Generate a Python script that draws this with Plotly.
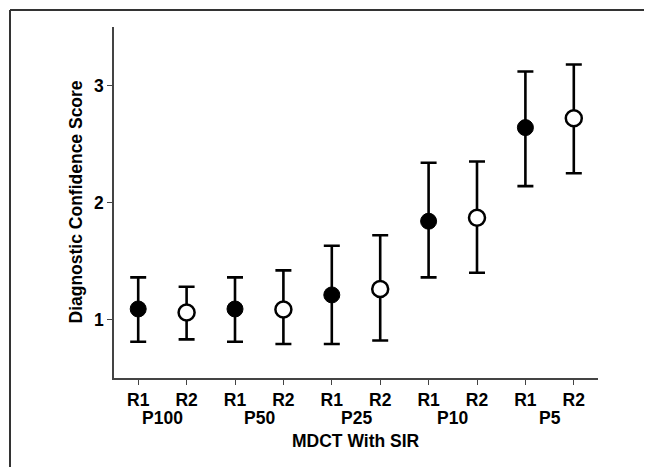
import plotly.graph_objects as go

groups = ["P100", "P50", "P25", "P10", "P5"]
readers = ["R1", "R2"]

r1_mean = [1.09, 1.09, 1.21, 1.84, 2.64]
r1_upper = [1.36, 1.36, 1.63, 2.34, 3.12]
r1_lower = [0.81, 0.81, 0.79, 1.36, 2.14]

r2_mean = [1.06, 1.085, 1.26, 1.87, 2.72]
r2_upper = [1.28, 1.42, 1.72, 2.35, 3.18]
r2_lower = [0.83, 0.79, 0.82, 1.40, 2.25]

y_ticks = [1, 2, 3]

FONT = "Liberation Sans, Arial, Helvetica, sans-serif"
FS = 17.5

# page has an 8px body margin, so the figure is sized to fit the window
W, H = 644, 459
ML, MR, MT, MB = 106, 54, 19, 89
PW = W - ML - MR
PH = H - MT - MB

n = len(groups)
x_r1 = [2 * i for i in range(n)]
x_r2 = [2 * i + 1 for i in range(n)]

fig = go.Figure()

fig.add_trace(go.Scatter(
    x=x_r1, y=r1_mean, mode="markers", name="R1",
    marker=dict(symbol="circle", size=16, color="black", line=dict(color="black", width=1)),
    error_y=dict(type="data", symmetric=False,
                 array=[u - m for u, m in zip(r1_upper, r1_mean)],
                 arrayminus=[m - l for m, l in zip(r1_mean, r1_lower)],
                 color="black", thickness=2.6, width=8),
))
fig.add_trace(go.Scatter(
    x=x_r2, y=r2_mean, mode="markers", name="R2",
    marker=dict(symbol="circle", size=16, color="white", line=dict(color="black", width=2.5)),
    error_y=dict(type="data", symmetric=False,
                 array=[u - m for u, m in zip(r2_upper, r2_mean)],
                 arrayminus=[m - l for m, l in zip(r2_mean, r2_lower)],
                 color="black", thickness=2.6, width=8),
))

# group labels
for i, g in enumerate(groups):
    fig.add_annotation(x=2 * i + 0.5, xref="x", y=0, yref="paper",
                       yanchor="middle", yshift=-40,
                       text="<b>%s</b>" % g, showarrow=False,
                       font=dict(family=FONT, size=FS, color="black"))

fig.add_annotation(x=0.5, xref="paper", y=0, yref="paper",
                   yanchor="middle", yshift=-63,
                   text="<b>MDCT With SIR</b>", showarrow=False,
                   font=dict(family=FONT, size=FS, color="black"))

fig.add_annotation(x=0, xref="paper", y=0.5, yref="paper",
                   xanchor="center", yanchor="middle", xshift=-39,
                   text="<b>Diagnostic Confidence Score</b>", textangle=-90,
                   showarrow=False,
                   font=dict(family=FONT, size=FS, color="black"))

# frame border (top and left)
bx = (2 - ML) / PW
by = 1 + (MT - 2) / PH
fig.add_shape(type="line", xref="paper", yref="paper",
              x0=bx, x1=1 + (MR + 10) / PW, y0=by, y1=by,
              line=dict(color="#333", width=2))
fig.add_shape(type="line", xref="paper", yref="paper",
              x0=bx, x1=bx, y0=by, y1=-(MB + 10) / PH,
              line=dict(color="#333", width=2))

fig.update_layout(
    width=W, height=H,
    margin=dict(l=ML, r=MR, t=MT, b=MB, autoexpand=False),
    paper_bgcolor="white", plot_bgcolor="white",
    showlegend=False,
    font=dict(family=FONT, size=FS, color="black"),
    xaxis=dict(range=[-0.5, 9.5], tickmode="array",
               tickvals=list(range(2 * n)),
               ticktext=["<b>%s</b>" % readers[k % 2] for k in range(2 * n)],
               showline=True, linecolor="#444", linewidth=1.5,
               ticks="outside", ticklen=5, tickwidth=1.2, tickcolor="#444",
               showgrid=False, zeroline=False, automargin=False,
               tickfont=dict(family=FONT, size=FS, color="black")),
    yaxis=dict(range=[0.5, 3.5], tickmode="array", tickvals=y_ticks,
               ticktext=["<b>%d</b>" % v for v in y_ticks],
               showline=True, linecolor="#444", linewidth=1.5,
               ticks="outside", ticklen=5, tickwidth=1.2, tickcolor="#444",
               showgrid=False, zeroline=False, automargin=False,
               tickfont=dict(family=FONT, size=FS, color="black")),
)

fig.write_html("out.html")
